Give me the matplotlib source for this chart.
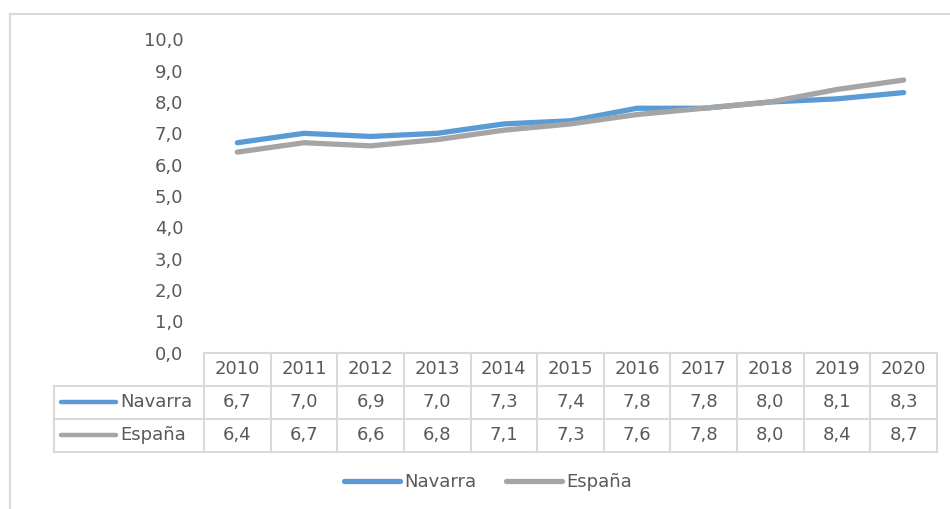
#!/usr/bin/env python3
"""Line chart with an Excel-style data table: Navarra vs España, 2010-2020."""

import matplotlib

matplotlib.use("Agg")
import matplotlib.pyplot as plt
from matplotlib.lines import Line2D
from matplotlib.transforms import blended_transform_factory

YEARS = ["2010", "2011", "2012", "2013", "2014", "2015", "2016", "2017", "2018", "2019", "2020"]
NAVARRA = [6.7, 7.0, 6.9, 7.0, 7.3, 7.4, 7.8, 7.8, 8.0, 8.1, 8.3]
ESPANA = [6.4, 6.7, 6.6, 6.8, 7.1, 7.3, 7.6, 7.8, 8.0, 8.4, 8.7]
SERIES_NAMES = ["Navarra", "España"]
Y_TICKS = [0, 1, 2, 3, 4, 5, 6, 7, 8, 9, 10]

BLUE = "#5B9BD5"
GRAY = "#A5A5A5"
TEXT = "#595959"
GRID = "#D9D9D9"

W, H = 950, 509


def fx(px: float) -> float:
    return px / W


def fy(py: float) -> float:
    return 1 - py / H


def fmt(value: float) -> str:
    return f"{value:.1f}".replace(".", ",")


plt.rcParams["font.family"] = ["DejaVu Sans"]
fig = plt.figure(figsize=(W / 100, H / 100), dpi=100)

# chart border (cut off on right and bottom in the original)
fig.add_artist(Line2D([fx(10), fx(10)], [fy(14), fy(H + 5)], color=GRID, lw=1.5))
fig.add_artist(Line2D([fx(10), fx(W + 5)], [fy(14), fy(14)], color=GRID, lw=1.5))

ax_left, ax_right = 204, 937
ax_top, ax_bottom = 39.3, 352.7
ax = fig.add_axes([fx(ax_left), fy(ax_bottom), fx(ax_right - ax_left), (ax_bottom - ax_top) / H])

xs = list(range(len(YEARS)))
series = [NAVARRA, ESPANA]
colors = [BLUE, GRAY]
for values, color, name in zip(series, colors, SERIES_NAMES):
    ax.plot(xs, values, color=color, lw=3.8, solid_capstyle="round",
            solid_joinstyle="round", label=name)

ax.set_xlim(-0.5, len(YEARS) - 0.5)
ax.set_ylim(0, 10)
ax.set_yticks(Y_TICKS)
ax.set_yticklabels([fmt(v) for v in Y_TICKS], color=TEXT, fontsize=13)
ax.tick_params(axis="y", length=0, pad=15)
ax.set_xticks([])
for spine in ax.spines.values():
    spine.set_visible(False)

# data table below the plot
trans = blended_transform_factory(ax.transData, fig.transFigure)
row_edges = [352.7, 385.5, 418.5, 451.5]
for i in range(len(YEARS) + 1):
    x = i - 0.5
    fig.add_artist(Line2D([x, x], [fy(row_edges[0]), fy(row_edges[-1])], transform=trans,
                          color=GRID, lw=1.5))
table_left = 54
fig.add_artist(Line2D([fx(table_left), fx(table_left)], [fy(row_edges[1]), fy(row_edges[-1])],
                      color=GRID, lw=1.5))
fig.add_artist(Line2D([fx(ax_left), fx(ax_right)], [fy(row_edges[0]), fy(row_edges[0])],
                      color=GRID, lw=1.5))
for edge in row_edges[1:]:
    fig.add_artist(Line2D([fx(table_left), fx(ax_right)], [fy(edge), fy(edge)], color=GRID, lw=1.5))

header_y = (row_edges[0] + row_edges[1]) / 2
for x, year in zip(xs, YEARS):
    fig.text(x, fy(header_y), year, transform=trans, ha="center", va="center",
             color=TEXT, fontsize=13)

for r, (values, color, name) in enumerate(zip(series, colors, SERIES_NAMES)):
    cy = (row_edges[r + 1] + row_edges[r + 2]) / 2
    for x, v in zip(xs, values):
        fig.text(x, fy(cy), fmt(v), transform=trans, ha="center", va="center",
                 color=TEXT, fontsize=13)
    fig.add_artist(Line2D([fx(61), fx(116)], [fy(cy), fy(cy)], color=color, lw=3.2,
                          solid_capstyle="round"))
    fig.text(fx(120), fy(cy), name, ha="left", va="center", color=TEXT, fontsize=13)

# legend at the bottom
fig.legend(loc="center", bbox_to_anchor=(fx(488), fy(482)), ncol=2, frameon=False,
           fontsize=13, labelcolor=TEXT, handlelength=3.1, handletextpad=0.25,
           columnspacing=1.6)

fig.savefig("out.png", dpi=100)
